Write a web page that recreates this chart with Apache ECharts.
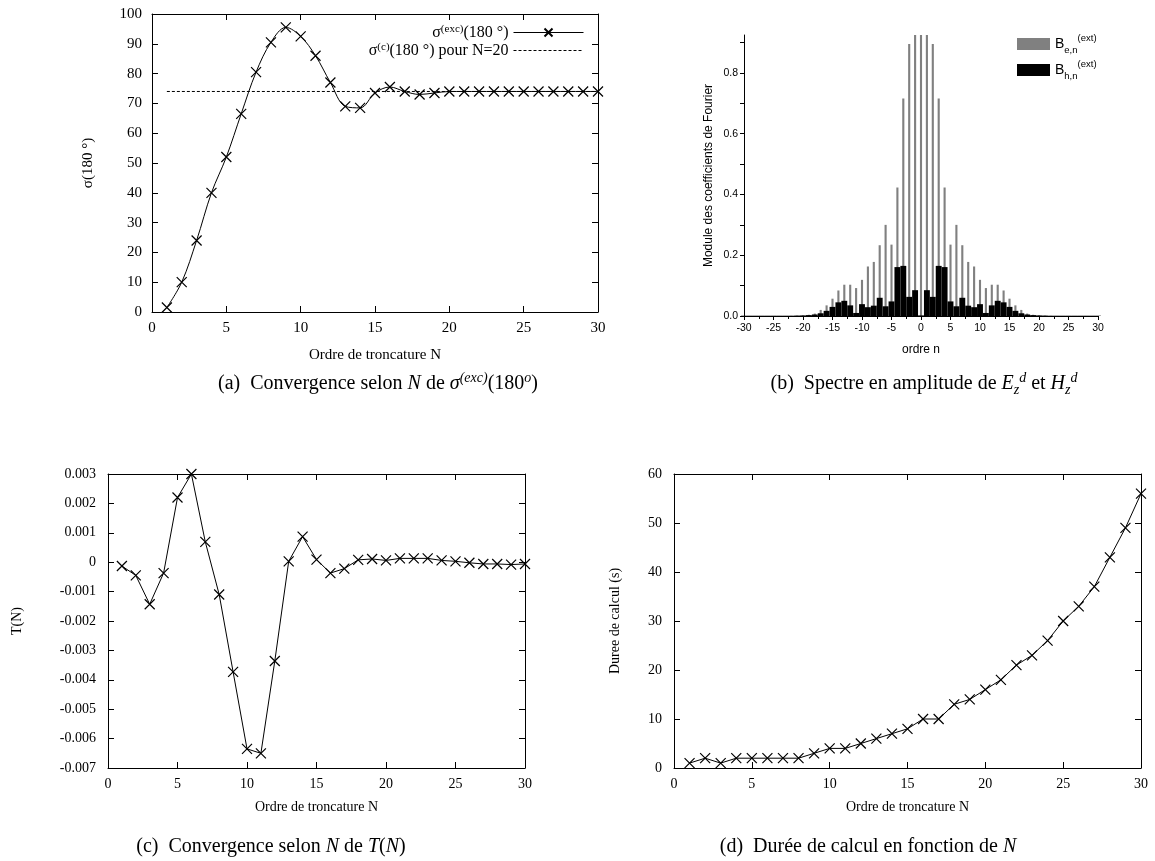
<!DOCTYPE html>
<html><head><meta charset="utf-8">
<script src="https://cdn.jsdelivr.net/npm/echarts@6/dist/echarts.min.js"></script>
<style>html,body{margin:0;padding:0;background:#fff}#c{width:1155px;height:861px}</style>
</head><body><div id="c"></div>
<script>
// ---- data ----
const N = [1,2,3,4,5,6,7,8,9,10,11,12,13,14,15,16,17,18,19,20,21,22,23,24,25,26,27,28,29,30];
const sigmaExc = [1.5,10,24,40,52,66.5,80.5,90.5,95.5,92.5,86,77,69,68.5,73.5,75.5,74,73,73.5,74,74,74,74,74,74,74,74,74,74,74];
const sigmaC20 = 74;
const ordres = [-30,-29,-28,-27,-26,-25,-24,-23,-22,-21,-20,-19,-18,-17,-16,-15,-14,-13,-12,-11,-10,-9,-8,-7,-6,-5,-4,-3,-2,-1,0,1,2,3,4,5,6,7,8,9,10,11,12,13,14,15,16,17,18,19,20,21,22,23,24,25,26,27,28,29,30];
const Be = [0,0,0,0,0,0,0,0,0.0005,0.001,0.002,0.004,0.008,0.02,0.035,0.057,0.084,0.103,0.103,0.092,0.119,0.163,0.178,0.233,0.30,0.235,0.423,0.716,0.895,0.98,1.0,0.98,0.895,0.716,0.423,0.235,0.30,0.233,0.178,0.163,0.119,0.092,0.103,0.103,0.084,0.057,0.035,0.02,0.008,0.004,0.002,0.001,0.0005,0,0,0,0,0,0,0,0];
const Bh = [0.001,0.001,0.001,0.001,0.001,0.001,0.001,0.001,0.001,0.0015,0.002,0.003,0.005,0.009,0.017,0.03,0.045,0.05,0.035,0.01,0.039,0.029,0.034,0.06,0.032,0.048,0.161,0.165,0.063,0.085,0.002,0.085,0.063,0.165,0.161,0.048,0.032,0.06,0.034,0.029,0.039,0.01,0.035,0.05,0.045,0.03,0.017,0.009,0.005,0.003,0.002,0.0015,0.001,0.001,0.001,0.001,0.001,0.001,0.001,0.001,0.001];
const T = [-0.00013,-0.00045,-0.00143,-0.00037,0.0022,0.003,0.00069,-0.0011,-0.00373,-0.00635,-0.0065,-0.00336,0.00003,0.00087,0.00009,-0.00037,-0.00022,0.00008,0.00011,0.00006,0.00013,0.00013,0.00013,0.00006,0.00003,-0.00002,-0.00006,-0.00006,-0.00008,-0.00006];
const duree = [1,2,1,2,2,2,2,2,3,4,4,5,6,7,8,10,10,13,14,16,18,21,23,26,30,33,37,43,49,56];

// ---- styles ----
const SERIF = 'Liberation Serif';
const SANS = 'Liberation Sans';
const CROSS = 'path://M0,0L10,10M10,0L0,10';
const pair = (xs, ys) => xs.map((x, i) => [x, ys[i]]);

function gAxisX(grid, min, max, interval, opts) {
  return Object.assign({
    type: 'value', gridIndex: grid, min, max, interval, position: 'bottom',
    axisLine: {show: true, onZero: false, lineStyle: {color: '#000', width: 1}},
    axisTick: {show: true, inside: true, length: 6, lineStyle: {color: '#000'}},
    splitLine: {show: false},
    axisLabel: {color: '#000', fontFamily: SERIF, fontSize: 15, margin: 9}
  }, opts || {});
}
function gAxisY(grid, min, max, interval, opts) {
  return Object.assign({
    type: 'value', gridIndex: grid, min, max, interval, position: 'left',
    axisLine: {show: true, onZero: false, lineStyle: {color: '#000', width: 1}},
    axisTick: {show: true, inside: true, length: 6, lineStyle: {color: '#000'}},
    splitLine: {show: false},
    axisLabel: {color: '#000', fontFamily: SERIF, fontSize: 15, margin: 10}
  }, opts || {});
}
const mirror = {axisLabel: {show: false}};

const nameStyleSerif = {color: '#000', fontFamily: SERIF, fontSize: 15};

const option = {
  animation: false,
  backgroundColor: '#fff',
  grid: [
    {left: 152, top: 14, width: 446, height: 298},
    {left: 744, top: 35, width: 354, height: 281},
    {left: 108, top: 474, width: 417, height: 294},
    {left: 674, top: 474, width: 467, height: 294}
  ],
  xAxis: [
    gAxisX(0, 0, 30, 5, {name: 'Ordre de troncature N', nameLocation: 'middle', nameGap: 36, nameTextStyle: nameStyleSerif}),
    gAxisX(0, 0, 30, 5, Object.assign({position: 'top'}, mirror)),
    {
      type: 'value', gridIndex: 1, min: -30, max: 30, interval: 5, position: 'bottom',
      axisLine: {show: true, onZero: false, lineStyle: {color: '#000', width: 1}},
      axisTick: {show: true, inside: false, length: 4, lineStyle: {color: '#000'}},
      minorTick: {show: true, splitNumber: 2, length: 3, lineStyle: {color: '#000'}},
      splitLine: {show: false},
      axisLabel: {color: '#000', fontFamily: SANS, fontSize: 10.5, margin: 7},
      name: 'ordre n', nameLocation: 'middle', nameGap: 28,
      nameTextStyle: {color: '#000', fontFamily: SANS, fontSize: 12}
    },
    {type: 'value', gridIndex: 1, min: -30, max: 30, interval: 5, show: false},
    gAxisX(2, 0, 30, 5, {name: 'Ordre de troncature N', nameLocation: 'middle', nameGap: 32, nameTextStyle: {color: '#000', fontFamily: SERIF, fontSize: 14}, axisLabel: {color: '#000', fontFamily: SERIF, fontSize: 14, margin: 9}}),
    gAxisX(2, 0, 30, 5, Object.assign({position: 'top'}, mirror)),
    gAxisX(3, 0, 30, 5, {name: 'Ordre de troncature N', nameLocation: 'middle', nameGap: 32, nameTextStyle: {color: '#000', fontFamily: SERIF, fontSize: 14}, axisLabel: {color: '#000', fontFamily: SERIF, fontSize: 14, margin: 9}}),
    gAxisX(3, 0, 30, 5, Object.assign({position: 'top'}, mirror))
  ],
  yAxis: [
    gAxisY(0, 0, 100, 10, {name: 'σ(180 °)', nameLocation: 'middle', nameGap: 56, nameTextStyle: nameStyleSerif}),
    gAxisY(0, 0, 100, 10, Object.assign({position: 'right'}, mirror)),
    {
      type: 'value', gridIndex: 1, min: 0, max: 0.925, position: 'left',
      axisLine: {show: true, onZero: false, lineStyle: {color: '#000', width: 1}},
      axisTick: {show: true, inside: false, length: 4, lineStyle: {color: '#000'}, customValues: [0, 0.1, 0.2, 0.3, 0.4, 0.5, 0.6, 0.7, 0.8, 0.9]},
      splitLine: {show: false},
      axisLabel: {color: '#000', fontFamily: SANS, fontSize: 10.5, margin: 6, customValues: [0, 0.2, 0.4, 0.6, 0.8], formatter: v => v.toFixed(1)},
      name: 'Module des coefficients de Fourier', nameLocation: 'middle', nameGap: 29,
      nameTextStyle: {color: '#000', fontFamily: SANS, fontSize: 12}
    },
    gAxisY(2, -0.007, 0.003, 0.001, {name: 'T(N)', nameLocation: 'middle', nameGap: 84, nameTextStyle: {color: '#000', fontFamily: SERIF, fontSize: 14}, axisLabel: {color: '#000', fontFamily: SERIF, fontSize: 14, margin: 12}}),
    gAxisY(2, -0.007, 0.003, 0.001, Object.assign({position: 'right'}, mirror)),
    gAxisY(3, 0, 60, 10, {name: 'Duree de calcul (s)', nameLocation: 'middle', nameGap: 52, nameTextStyle: {color: '#000', fontFamily: SERIF, fontSize: 14}, axisLabel: {color: '#000', fontFamily: SERIF, fontSize: 14, margin: 12}}),
    gAxisY(3, 0, 60, 10, Object.assign({position: 'right'}, mirror))
  ],
  legend: [
    {
      orient: 'vertical', align: 'right', right: 566, top: 19, itemWidth: 70, itemHeight: 10, itemGap: 1,
      lineStyle: {width: 1},
      data: ['sexc', {name: 'sc', itemStyle: {opacity: 0}}],
      formatter: name => name === 'sexc' ? '{t|σ}{sup|(exc)}{t|(180 °)}' : '{t|σ}{sup|(c)}{t|(180 °) pour N=20}',
      textStyle: {
        color: '#000', fontFamily: SERIF, fontSize: 16,
        rich: {
          t: {fontFamily: SERIF, fontSize: 16, color: '#000', lineHeight: 17, verticalAlign: 'bottom'},
          sup: {fontFamily: SERIF, fontSize: 11, color: '#000', lineHeight: 17, verticalAlign: 'top'}
        }
      }
    },
    {
      orient: 'vertical', align: 'left', left: 1012, top: 28, itemWidth: 33, itemHeight: 12, itemGap: 4,
      icon: 'rect',
      data: ['Be', 'Bh'],
      formatter: name => name === 'Be' ? '{b|B}{sub|e,n}{sup|(ext)}' : '{b|B}{sub|h,n}{sup|(ext)}',
      textStyle: {
        color: '#000', fontFamily: SANS, fontSize: 12,
        rich: {
          b: {fontFamily: SANS, fontSize: 14, color: '#000', lineHeight: 22, verticalAlign: 'middle'},
          sub: {fontFamily: SANS, fontSize: 9.5, color: '#000', lineHeight: 22, verticalAlign: 'bottom'},
          sup: {fontFamily: SANS, fontSize: 9.5, color: '#000', lineHeight: 22, verticalAlign: 'top'}
        }
      }
    }
  ],
  series: [
    {
      name: 'sexc', type: 'line', xAxisIndex: 0, yAxisIndex: 0, data: pair(N, sigmaExc),
      smooth: 0.35, symbol: CROSS, symbolSize: 10,
      lineStyle: {color: '#000', width: 1},
      itemStyle: {color: '#000', borderColor: '#000', borderWidth: 1.2}
    },
    {
      name: 'sc', type: 'line', xAxisIndex: 0, yAxisIndex: 0,
      data: [[N[0], sigmaC20], [N[N.length - 1], sigmaC20]],
      symbol: 'none', lineStyle: {color: '#000', width: 1, type: [3, 2]}, itemStyle: {color: '#000'}, z: 1
    },
    {
      name: 'Be', type: 'bar', xAxisIndex: 3, yAxisIndex: 2, data: pair(ordres, Be),
      barWidth: '36%', itemStyle: {color: '#808080'}, z: 2
    },
    {
      name: 'Bh', type: 'bar', xAxisIndex: 2, yAxisIndex: 2, data: pair(ordres, Bh),
      barWidth: '100%', itemStyle: {color: '#000'}, z: 3
    },
    {
      name: 'T', type: 'line', xAxisIndex: 4, yAxisIndex: 3, data: pair(N, T),
      symbol: CROSS, symbolSize: 10,
      lineStyle: {color: '#000', width: 1},
      itemStyle: {color: '#000', borderColor: '#000', borderWidth: 1.2}
    },
    {
      name: 'duree', type: 'line', xAxisIndex: 6, yAxisIndex: 5, data: pair(N, duree),
      symbol: CROSS, symbolSize: 10,
      lineStyle: {color: '#000', width: 1},
      itemStyle: {color: '#000', borderColor: '#000', borderWidth: 1.2}
    }
  ],
  graphic: (function () {
    const CAP = 'Liberation Serif';
    const base = {fontFamily: CAP, fontSize: 20, color: '#000'};
    const rich = {
      r: {fontFamily: CAP, fontSize: 20, lineHeight: 26, verticalAlign: 'middle'},
      i: {fontFamily: CAP, fontSize: 20, fontStyle: 'italic', lineHeight: 26, verticalAlign: 'middle'},
      sup: {fontFamily: CAP, fontSize: 14, lineHeight: 26, verticalAlign: 'top'},
      supi: {fontFamily: CAP, fontSize: 14, fontStyle: 'italic', lineHeight: 26, verticalAlign: 'top'},
      subi: {fontFamily: CAP, fontSize: 14, fontStyle: 'italic', lineHeight: 26, verticalAlign: 'bottom'}
    };
    const mk = (x, y, text) => ({
      type: 'text', x, y,
      style: Object.assign({text, align: 'center', verticalAlign: 'middle', rich}, base)
    });
    return [
      mk(378, 384, '{r|(a)  Convergence selon }{i|N}{r| de }{i|σ}{supi|(exc)}{r|(180}{supi|o}{r|)}'),
      mk(924, 384, '{r|(b)  Spectre en amplitude de }{i|E}{subi|z}{supi|d}{r| et }{i|H}{subi|z}{supi|d}'),
      mk(271, 847, '{r|(c)  Convergence selon }{i|N}{r| de }{i|T}{r|(}{i|N}{r|)}'),
      mk(868, 847, '{r|(d)  Durée de calcul en fonction de }{i|N}')
    ];
  })()
};

const chart = echarts.init(document.getElementById('c'), null, {renderer: 'canvas'});
chart.setOption(option);
</script>
</body></html>
